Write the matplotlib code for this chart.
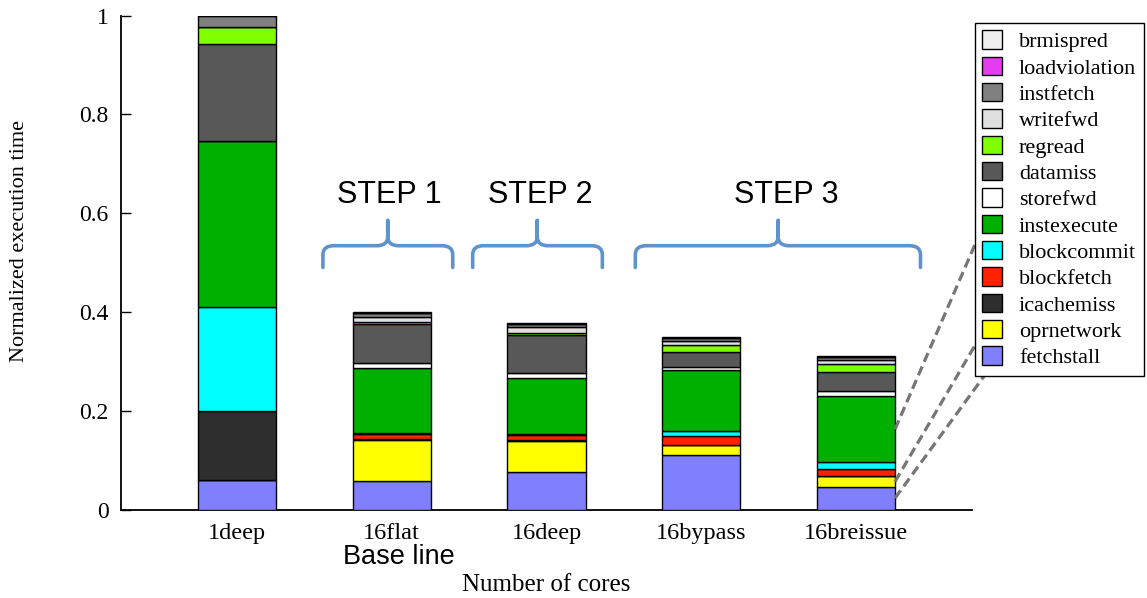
import numpy as np
import matplotlib
matplotlib.use("Agg")
import matplotlib.pyplot as plt
from matplotlib.path import Path
from matplotlib.patches import PathPatch
from matplotlib.lines import Line2D

# Configurations along the x axis
categories = ["1deep", "16flat", "16deep", "16bypass", "16breissue"]

# Normalized execution-time components, stacked bottom to top
fetchstall    = [0.059, 0.057, 0.076, 0.111, 0.046]
oprnetwork    = [0.000, 0.084, 0.062, 0.019, 0.021]
icachemiss    = [0.140, 0.002, 0.002, 0.000, 0.000]
blockfetch    = [0.000, 0.009, 0.010, 0.018, 0.015]
blockcommit   = [0.210, 0.003, 0.003, 0.011, 0.014]
instexecute   = [0.337, 0.131, 0.114, 0.124, 0.133]
storefwd      = [0.000, 0.010, 0.010, 0.005, 0.011]
datamiss      = [0.197, 0.080, 0.077, 0.031, 0.039]
regread       = [0.033, 0.004, 0.004, 0.014, 0.015]
writefwd      = [0.000, 0.010, 0.011, 0.008, 0.008]
instfetch     = [0.024, 0.007, 0.006, 0.006, 0.006]
loadviolation = [0.000, 0.000, 0.000, 0.000, 0.000]
brmispred     = [0.000, 0.003, 0.002, 0.003, 0.002]

yticks = [0, 0.2, 0.4, 0.6, 0.8, 1]
ytick_labels = ["0", "0.2", "0.4", "0.6", "0.8", "1"]

series = [
    ("fetchstall", fetchstall, "#8080ff"),
    ("oprnetwork", oprnetwork, "#ffff00"),
    ("icachemiss", icachemiss, "#2e2e2e"),
    ("blockfetch", blockfetch, "#ff2200"),
    ("blockcommit", blockcommit, "#00ffff"),
    ("instexecute", instexecute, "#00b000"),
    ("storefwd", storefwd, "#ffffff"),
    ("datamiss", datamiss, "#585858"),
    ("regread", regread, "#80ff00"),
    ("writefwd", writefwd, "#e0e0e0"),
    ("instfetch", instfetch, "#808080"),
    ("loadviolation", loadviolation, "#e63cf0"),
    ("brmispred", brmispred, "#f0f0f0"),
]

SERIF = ["Liberation Serif", "DejaVu Serif"]
SANS = ["Liberation Sans", "DejaVu Sans"]

W, H = 1147, 598
fig = plt.figure(figsize=(W / 100, H / 100), dpi=100)
ax = fig.add_axes([121 / W, 88.5 / H, 851 / W, 494 / H])

x = np.arange(len(categories))
bar_w = 0.505
bottom = np.zeros(len(categories))
handles = {}
bottoms = {}
for name, vals, col in series:
    vals = np.asarray(vals, dtype=float)
    bc = ax.bar(x, vals, width=bar_w, bottom=bottom, color=col,
                edgecolor="black", linewidth=1.0, label=name, zorder=3)
    handles[name] = bc
    bottoms[name] = bottom.copy()
    bottom = bottom + vals

ax.set_xlim(-0.75, 4.75)
ax.set_ylim(0, 1)
for s in ("top", "right"):
    ax.spines[s].set_visible(False)
for s in ("left", "bottom"):
    ax.spines[s].set_linewidth(1.3)

ax.set_yticks(yticks)
ax.set_yticklabels(ytick_labels, fontfamily=SERIF, fontsize=17)
ax.tick_params(axis="y", direction="in", length=7.5, width=1.0, pad=9)
ax.set_xticks(x)
ax.set_xticklabels(categories, fontfamily=SERIF, fontsize=17.5)
ax.tick_params(axis="x", length=0, pad=10)

fig.text(20 / W, 1 - 241 / H, "Normalized execution time", rotation=90,
         ha="center", va="center", fontfamily=SERIF, fontsize=16)
fig.text(546 / W, 1 - 585 / H, "Number of cores", ha="center", va="center",
         fontfamily=SERIF, fontsize=18)
fig.text(398.5 / W, 1 - 557 / H, "Base line", ha="center", va="center",
         fontfamily=SANS, fontsize=19.5)


def brace(ax, x0, x1, xc, yb, ym, yt, color="#5f93cb"):
    rx, ry = 0.07, 0.018
    verts = [
        (x0, yb), (x0, ym - ry), (x0, ym), (x0 + rx, ym),
        (xc - rx, ym), (xc, ym), (xc, ym + ry), (xc, yt),
        (xc, ym + ry), (xc, ym), (xc + rx, ym),
        (x1 - rx, ym), (x1, ym), (x1, ym - ry), (x1, yb),
    ]
    codes = [
        Path.MOVETO, Path.LINETO, Path.CURVE3, Path.CURVE3,
        Path.LINETO, Path.CURVE3, Path.CURVE3, Path.LINETO,
        Path.LINETO, Path.CURVE3, Path.CURVE3,
        Path.LINETO, Path.CURVE3, Path.CURVE3, Path.LINETO,
    ]
    pp = PathPatch(Path(verts, codes), facecolor="none", edgecolor=color,
                   linewidth=2.6, capstyle="round", joinstyle="round",
                   clip_on=False, zorder=4)
    ax.add_patch(pp)


steps = [("STEP 1", 0.555, 1.394, 0.974, 0.981),
         ("STEP 2", 1.523, 2.361, 1.94, 1.961),
         ("STEP 3", 2.574, 4.417, 3.497, 3.548)]
for label, x0, x1, xc, xt in steps:
    brace(ax, x0, x1, xc, 0.49, 0.534, 0.585)
    ax.text(xt, 0.637, label, ha="center", va="center", fontfamily=SANS,
            fontsize=22, zorder=4)

# Legend, top entry first
order = [name for name, _, _ in series][::-1]
leg = fig.legend([handles[n] for n in order], order,
                 loc="upper left", bbox_to_anchor=(975 / W, 1 - 23 / H),
                 bbox_transform=fig.transFigure, borderaxespad=0,
                 prop={"family": SERIF, "size": 16}, frameon=True,
                 fancybox=False, edgecolor="black", framealpha=1,
                 handlelength=0.9, handleheight=0.9, handletextpad=0.75,
                 labelspacing=0.2, borderpad=0.33)
leg.get_frame().set_linewidth(1.0)

# Dashed leaders from the last bar's segments to their legend keys
fig.canvas.draw()
inv = fig.transFigure.inverted()
leg_patches = dict(zip(order, leg.get_patches()))
xr = x[-1] + bar_w / 2
targets = [("instexecute", 0.0, 0.3), ("oprnetwork", 0.0, 0.3),
           ("fetchstall", 0.5, 0.0)]
seg_vals = {n: np.asarray(v, dtype=float) for n, v, _ in series}
for name, fx, fy in targets:
    ymid = bottoms[name][-1] + seg_vals[name][-1] / 2
    p0 = ax.transData.transform((xr, ymid))
    bb = leg_patches[name].get_window_extent()
    p1 = (bb.x0 + fx * bb.width, bb.y0 + fy * bb.height)
    f0 = inv.transform(p0)
    f1 = inv.transform(p1)
    fig.add_artist(Line2D([f0[0], f1[0]], [f0[1], f1[1]],
                          transform=fig.transFigure, color="#767676",
                          linewidth=2.3, linestyle=(0, (3, 1.6)), zorder=5))

fig.savefig("out.png", dpi=100)
